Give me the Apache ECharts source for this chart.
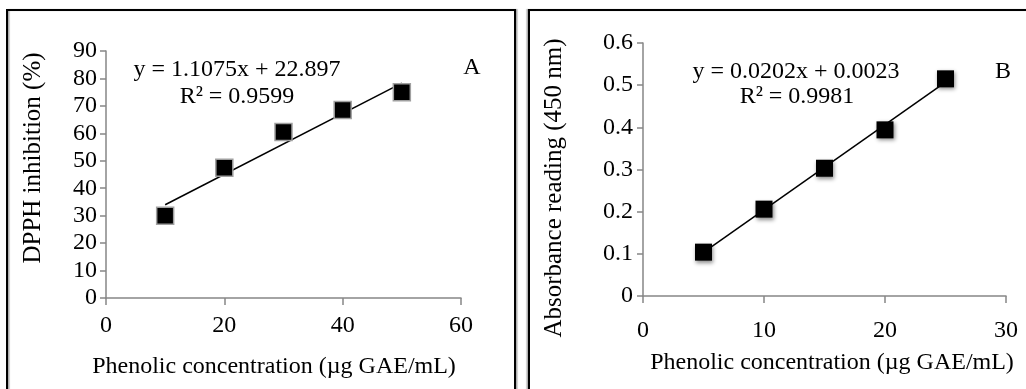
<!DOCTYPE html>
<html>
<head>
<meta charset="utf-8">
<script src="https://cdn.jsdelivr.net/npm/echarts@6/dist/echarts.min.js"></script>
<style>
html,body{margin:0;padding:0;background:#fff;}
#c{width:1026px;height:389px;}
</style>
</head>
<body>
<div id="c"></div>
<script>
// Panel A: DPPH inhibition
const concA = [10, 20, 30, 40, 50];
const dpphA = [30, 47.5, 60.5, 68.5, 75];
const trendA = [[10, 33.97], [50, 78.27]];
const eqA = 'y = 1.1075x + 22.897';
const r2A = 'R² = 0.9599';
const xTicksA = [0, 20, 40, 60];
const yTicksA = [0, 10, 20, 30, 40, 50, 60, 70, 80, 90];

// Panel B: Absorbance
const concB = [5, 10, 15, 20, 25];
const absB = [0.104, 0.206, 0.303, 0.394, 0.515];
const trendB = [[5, 0.1033], [25, 0.5073]];
const eqB = 'y = 0.0202x + 0.0023';
const r2B = 'R² = 0.9981';
const xTicksB = [0, 10, 20, 30];
const yTicksB = [0, 0.1, 0.2, 0.3, 0.4, 0.5, 0.6];

const xTitle = 'Phenolic concentration (µg GAE/mL)';
const yTitleA = 'DPPH inhibition (%)';
const yTitleB = 'Absorbance reading (450 nm)';

const FONT = '"Liberation Serif", "Times New Roman", serif';
const FS = 24;
const FSY = 25;
const axisGray = '#868686';

function xAx(grid, ticks, margin) {
  return {
    type: 'value', gridIndex: grid,
    min: ticks[0], max: ticks[ticks.length - 1], interval: ticks[1] - ticks[0],
    axisLine: {show: true, lineStyle: {color: axisGray, width: 1.5}},
    axisTick: {show: true, inside: false, length: 7, lineStyle: {color: axisGray, width: 1.5}},
    axisLabel: {fontFamily: FONT, fontSize: FS, color: '#000', margin: margin},
    splitLine: {show: false}
  };
}
function yAx(grid, ticks, margin, fmt) {
  return {
    type: 'value', gridIndex: grid,
    min: ticks[0], max: ticks[ticks.length - 1], interval: ticks[1] - ticks[0],
    axisLine: {show: true, lineStyle: {color: axisGray, width: 1.5}},
    axisTick: {show: true, inside: false, length: 6, lineStyle: {color: axisGray, width: 1.5}},
    axisLabel: {fontFamily: FONT, fontSize: FS, color: '#000', margin: margin, formatter: fmt},
    splitLine: {show: false}
  };
}
function txt(x, y, s, fs, rot) {
  return {type: 'text', x: x, y: y, rotation: rot || 0,
    style: {text: s, font: fs + 'px ' + FONT, fill: '#000', textAlign: 'center', textVerticalAlign: 'middle'}};
}

const chart = echarts.init(document.getElementById('c'), null, {renderer: 'canvas'});
chart.setOption({
  backgroundColor: '#fff',
  animation: false,
  grid: [
    {left: 106, top: 51, width: 355, height: 247},
    {left: 643, top: 43, width: 363, height: 253}
  ],
  xAxis: [xAx(0, xTicksA, 16), xAx(1, xTicksB, 23)],
  yAxis: [
    yAx(0, yTicksA, 9, v => String(v)),
    yAx(1, yTicksB, 10, v => String(+v.toFixed(1)))
  ],
  series: [
    {type: 'line', xAxisIndex: 0, yAxisIndex: 0, data: trendA, symbol: 'none',
     lineStyle: {color: '#000', width: 1.5}, z: 2},
    {type: 'scatter', xAxisIndex: 0, yAxisIndex: 0,
     data: concA.map((x, i) => [x, dpphA[i]]),
     symbol: 'rect', symbolSize: 17,
     itemStyle: {color: '#000', borderColor: '#a0a0a0', borderWidth: 1.5, opacity: 1}, z: 3},
    {type: 'line', xAxisIndex: 1, yAxisIndex: 1, data: trendB, symbol: 'none',
     lineStyle: {color: '#000', width: 1.5}, z: 2},
    {type: 'scatter', xAxisIndex: 1, yAxisIndex: 1,
     data: concB.map((x, i) => [x, absB[i]]),
     symbol: 'rect', symbolSize: 17,
     itemStyle: {color: '#000', shadowColor: 'rgba(0,0,0,0.45)', shadowBlur: 4, shadowOffsetX: 1, shadowOffsetY: 2, opacity: 1}, z: 3}
  ],
  graphic: [
    {type: 'rect', shape: {x: 7, y: 10, width: 508, height: 420},
     style: {fill: 'none', stroke: '#000', lineWidth: 2, shadowColor: 'rgba(0,0,0,0.35)', shadowOffsetX: 1.5, shadowOffsetY: 0, shadowBlur: 1}, silent: true},
    {type: 'rect', shape: {x: 529, y: 10, width: 520, height: 420},
     style: {fill: 'none', stroke: '#000', lineWidth: 2, shadowColor: 'rgba(0,0,0,0.35)', shadowOffsetX: -1.5, shadowOffsetY: 0, shadowBlur: 1}, silent: true},
    txt(33, 158, yTitleA, FSY, Math.PI / 2),
    txt(554, 188, yTitleB, FSY, Math.PI / 2),
    txt(274, 367, xTitle, FS),
    txt(832, 363, xTitle, FS),
    txt(237, 70, eqA, FS),
    txt(237, 97, r2A, FS),
    txt(472, 68, 'A', FS),
    txt(796, 72, eqB, FS),
    txt(797, 97, r2B, FS),
    txt(1003, 72, 'B', FS)
  ]
});
</script>
</body>
</html>
